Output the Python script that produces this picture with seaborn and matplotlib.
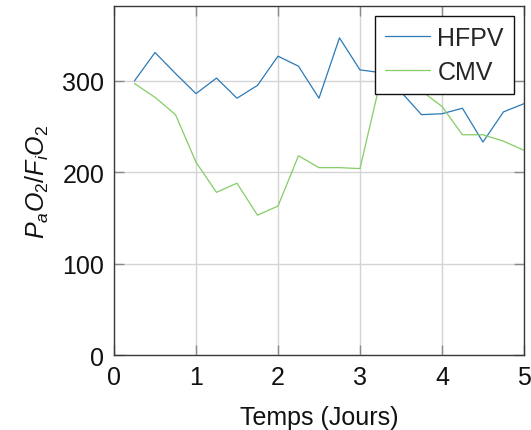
import numpy as np
import pandas as pd
import matplotlib
matplotlib.use("Agg")
import matplotlib.pyplot as plt
import seaborn as sns

# Days since start of ventilation
days = [0.25, 0.5, 0.75, 1.0, 1.25, 1.5, 1.75, 2.0, 2.25, 2.5,
        2.75, 3.0, 3.25, 3.5, 3.75, 4.0, 4.25, 4.5, 4.75, 5.0]

# PaO2/FiO2 ratio per ventilation mode
hfpv = [300, 331, 308, 286, 303, 281, 295, 327, 316, 281,
        347, 312, 309, 288, 263, 264, 270, 233, 266, 275]
cmv = [297, 282, 263, 211, 178, 188, 153, 163, 218, 205,
       205, 204, 300, 298, 289, 272, 241, 241, 234, 224]

series_names = ["HFPV", "CMV"]
series_colors = ["#2a7ab8", "#84cc66"]

df = pd.DataFrame({
    "day": days * 2,
    "ratio": hfpv + cmv,
    "mode": [series_names[0]] * len(days) + [series_names[1]] * len(days),
})

sns.set_theme(style="white")
plt.rcParams["font.family"] = ["Liberation Sans", "DejaVu Sans"]
plt.rcParams["mathtext.fontset"] = "custom"
plt.rcParams["mathtext.rm"] = "Liberation Sans"
plt.rcParams["mathtext.it"] = "Liberation Sans:italic"

fig = plt.figure(figsize=(5.31, 4.31), dpi=100)
ax = fig.add_axes([0.2147, 0.174, 0.772, 0.81])

sns.lineplot(data=df, x="day", y="ratio", hue="mode",
             palette=dict(zip(series_names, series_colors)),
             linewidth=0.9, ax=ax)

ax.set_xlim(0, 5)
ax.set_ylim(0, 382)
ax.set_xticks([0, 1, 2, 3, 4, 5])
ax.set_yticks([0, 100, 200, 300])
ax.grid(True, color="#d4d4d4", linewidth=1.0)
ax.set_axisbelow(True)

for s in ax.spines.values():
    s.set_color("#3a3a3a")
    s.set_linewidth(1.0)

ax.tick_params(axis="both", which="major", direction="in", length=7,
               width=1.0, color="#8a8a8a", labelsize=18, pad=7,
               top=True, right=True, bottom=True, left=True,
               labelcolor="#111111")

ax.set_xlabel("Temps (Jours)", fontsize=18, labelpad=12, color="#111111")
ax.set_ylabel(r"$P_aO_2/F_iO_2$", fontsize=18, labelpad=8, color="#111111")

leg = ax.legend(loc="upper right", fontsize=18, frameon=True, fancybox=False,
                handlelength=1.8, handletextpad=0.3, borderpad=0.4,
                labelspacing=0.4, borderaxespad=0.4, framealpha=1.0)
leg.get_frame().set_edgecolor("#111111")
leg.get_frame().set_linewidth(1.0)
leg.set_title(None)

fig.savefig("out.png", dpi=100)
